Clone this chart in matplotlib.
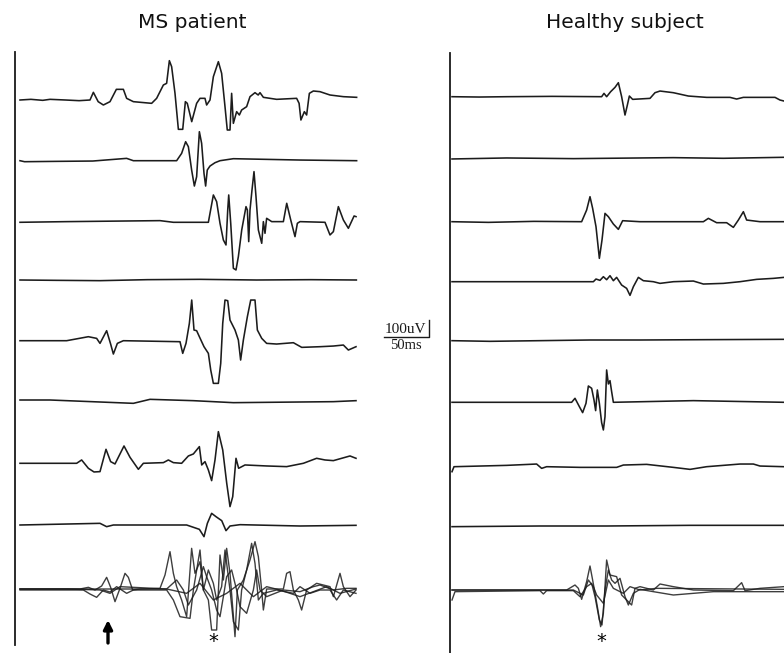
import numpy as np
import matplotlib
matplotlib.use("Agg")
import matplotlib.pyplot as plt

# ---- recorded sweeps: (time in ms, amplitude in uV) ----
# MS patient
ms_row1 = [(0, 0), (12, 4), (25, -2), (33, 4), (50, 0), (65, -4), (77, 0), (80.7, 46), (86, -10), (91.7, -30),
           (99, -10), (106, 64), (113.7, 64), (117.3, 10), (124.7, -10), (144.8, -20), (150.3, 10), (157.7, 90),
           (161.3, 100), (164.3, 236), (166.8, 200), (170.5, 40), (174.2, -176), (179, -176), (181.9, -10),
           (184, -20), (188.9, -130), (194.3, -20), (198, 10), (203.5, 10), (205.3, -30), (209, 0), (212.7, 140),
           (218.2, 230), (221.8, 160), (225.5, -40), (228, -180), (231, -180), (232.8, 40), (234.7, -140),
           (238.3, -70), (241.3, -90), (243.8, -60), (249.3, -40), (253, 20), (258.5, 44), (262, 30), (264, 44),
           (267.7, 16), (282.3, 4), (304.3, 10), (307, -20), (309, -120), (312.8, -70), (315.3, -90), (318.3, 40),
           (322.7, 54), (330, 50), (341, 30), (355.7, 20), (370.3, 16)]
ms_row2 = [(0, 0), (5, -6), (40, -4), (80, -2), (117.3, 14), (124.7, 0), (172.3, 0), (177.8, 44), (182.2, 114),
           (185.2, 84), (188.8, -56), (191.8, -152), (194.3, -96), (197.3, 174), (199.8, 104), (202.4, -76),
           (204.2, -152), (206, -56), (209, -32), (214.5, -12), (220, 0), (234.7, 12), (271.3, 8), (308, 4),
           (370.3, 0)]
ms_row3 = [(0, 0), (51.3, 4), (154, 10), (168.7, 0), (207.2, 0), (212.7, 164), (216.3, 124), (220, -6),
           (223.7, -106), (226.6, -136), (228.5, 74), (229.6, 164), (231.8, -6), (234.7, -276), (237.6, -286),
           (240.2, -206), (243.9, -46), (248.6, 94), (250.1, 74), (251.6, -116), (253, 74), (255.2, 194),
           (257.4, 304), (259.6, 154), (262.2, -46), (265.9, -126), (267.7, 4), (269.5, -66), (271.3, 24),
           (276.9, 4), (289.7, 4), (293.4, 114), (297.8, 14), (302.5, -86), (305.1, -6), (308, 4), (335.5, 0),
           (341, -76), (344.7, -56), (350.2, 94), (355.7, 14), (361.2, -36), (367.5, 38), (369.6, 34)]
ms_row4 = [(0, 0), (40, -2), (88, -4), (140, 2), (198, 4), (260, 0), (320, 2), (370, 0)]
ms_row5 = [(0, 0), (51.3, 0), (75.2, 24), (84.3, 14), (88, -16), (95.3, 60), (99.7, -20), (102.7, -80),
           (107.1, -16), (113.7, 0), (176, -6), (179, -76), (182.6, -16), (186.3, 104), (188.9, 244), (191.4, 64),
           (194.3, 60), (197.3, 24), (202.4, -36), (207.2, -76), (209.8, -176), (212.7, -256), (218.2, -256),
           (220.8, -136), (223, 104), (225.5, 244), (228.5, 240), (231, 124), (236.5, 64), (240.2, 4),
           (242.7, -116), (245.7, 4), (250.1, 144), (253.8, 244), (258.5, 244), (261.1, 64), (265.9, 14),
           (271.3, -16), (282.3, -20), (300.7, -12), (309.9, -40), (330, -36), (344.7, -32), (355.7, -26),
           (361.2, -56), (369.6, -36)]
ms_row6 = [(0, 6), (33, 6), (124.7, -14), (143, 10), (190.7, 2), (234.7, -10), (344.7, -4), (369.6, 2)]
ms_row7 = [(0, 0), (62.3, 0), (67.8, 20), (75.2, -30), (81.4, -52), (88, -50), (94.6, 84), (99.7, 10),
           (104.5, -4), (114.4, 104), (121, 36), (130.2, -36), (135.7, 0), (157.7, 4), (163.2, 20), (168.7, 4),
           (177.8, 0), (185.2, 44), (190.7, 56), (197.3, 100), (199.9, -10), (203.5, 10), (207.2, -40),
           (210.8, -104), (214.5, 20), (218.2, 190), (223, 80), (227.4, -120), (231, -260), (234, -200),
           (237.6, 30), (240.5, -30), (247.5, -10), (271.3, -16), (293.3, -20), (311.7, 0), (326.3, 30),
           (335.5, 20), (344.7, 16), (363, 44), (369.6, 30)]
ms_row8 = [(0, 0), (88, 10), (95.3, -10), (102.7, 0), (183.3, 0), (197.3, -26), (202.4, -70), (206.1, 10),
           (210.8, 70), (215.6, 50), (221.9, 26), (226.6, -34), (231, -6), (242, 2), (308, -6), (369.6, -2)]
ms_row9a = [(0, 0), (66, 0), (75.2, 10), (82.5, -6), (89.8, 18), (95.3, 70), (99.7, 10), (104.5, -76), (110, 4),
            (115.5, 94), (119.2, 70), (123.9, -6), (132, 0), (154, 4), (159.5, 84), (165, 224), (168.7, 94),
            (172.3, 14), (177.8, -66), (183.3, -166), (188.8, 244), (192.5, 94), (198, 164), (201.7, -6),
            (207.2, -66), (210.8, -246), (216.3, -246), (220, 204), (223.7, 54), (227.3, 244), (231, 94),
            (236.5, -286), (239.1, -6), (245.7, 54), (253, 174), (258.5, 284), (262.2, 194), (265.8, -6),
            (267.7, -126), (271.3, 0), (289.7, 0), (293.3, 94), (297, 104), (300.7, -6), (306.2, -66),
            (309.8, -126), (315.3, -6), (326.3, 34), (341, 14), (344.7, -46), (352, 94), (355.7, 14), (363, -46),
            (369.6, -6)]
ms_row9b = [(0, -6), (69.7, -6), (77, -30), (84.3, -50), (91.7, -6), (99, -18), (106.3, 14), (117.3, -26),
            (124.7, -6), (161.3, -6), (168.7, -66), (176, -166), (187, -176), (190.7, -6), (198, 234),
            (201.7, -6), (207.2, 114), (212.7, 34), (216.3, -66), (221.8, 14), (225.5, 234), (231, -6),
            (234.7, -196), (240.2, -246), (243.8, -6), (249.3, 114), (254.8, 274), (258.5, 154), (262.2, -66),
            (267.7, -26), (282.3, -6), (300.7, -26), (308, 14), (319, -26), (330, -6), (341, -6), (348.3, -66),
            (355.7, -6), (369.6, -26)]
ms_row9c = [(0, 0), (132, 0), (161.3, 0), (172.3, 54), (179.7, -6), (185.2, -96), (194.3, -6), (201.7, 134),
            (205.3, 74), (210.8, -6), (216.3, -126), (220, -166), (223.7, -46), (227.3, 74), (232.8, 114),
            (238.3, -6), (242, -106), (249.3, -146), (256.7, -6), (260.3, 114), (264, -6), (271.3, -46),
            (289.7, -6), (308, -16), (322.7, 14), (330, 24), (344.7, -6), (359.3, 4), (369.6, 4)]
ms_row9d = [(0, 0), (51.3, 0), (88, -6), (99, -26), (110, 14), (161.3, 0), (183.3, -26), (198, 34),
            (212.7, -66), (227.3, -26), (242, 34), (256.7, -46), (271.3, 14), (286, -6), (308, -46),
            (322.7, -16), (337.3, 14), (352, -26), (369.6, 0)]

# Healthy subject
hs_row1 = [(0, 0), (30, -2), (60.1, 0), (110, 2), (164.6, 0), (167.2, 20), (170.1, 0), (174.5, 30), (179.3, 56),
           (183, 84), (186.6, 0), (190.3, -110), (192.9, -50), (195.1, 4), (198.7, -16), (217.8, -10),
           (223.3, 24), (228.8, 34), (243.5, 24), (260, 4), (280.1, -4), (305.8, -4), (313.1, -14), (320.5, -4),
           (355.3, -4), (360.8, -20), (365.2, -26)]
hs_row2 = [(0, -4), (60.1, 2), (133.5, -2), (206.8, 2), (243.5, 4), (298.5, 0), (365.2, 6)]
hs_row3 = [(0, 0), (40, -4), (90, 2), (142.6, 0), (148.1, 70), (151.8, 150), (154.7, 80), (158.4, -30),
           (162.1, -220), (165, -110), (168.3, 50), (172, 30), (177.5, -14), (183, -46), (187.7, 6), (206.8, 0),
           (276.5, 0), (282, 20), (291.1, -6), (302.1, -6), (309.5, -34), (315, 10), (320.5, 60), (324.1, 10),
           (338.8, 0), (365.2, 0)]
hs_row4 = [(0, 0), (155.5, 0), (158.4, 16), (162.8, 8), (166.5, 30), (170.1, 12), (173.8, 36), (177.5, 6),
           (181.1, 26), (186.6, -20), (192.1, -40), (195.8, -82), (199.5, -30), (205, 26), (210.5, 6),
           (221.5, 0), (228.8, -10), (243.5, 0), (265.5, 4), (276.5, -14), (298.5, -10), (316.8, 0),
           (335.1, 14), (353.5, 20), (365.2, 26)]
hs_row5 = [(0, -4), (41.8, -8), (96.8, -4), (151.8, 0), (206.8, 0), (280.1, 2), (365.2, 4)]
hs_row6 = [(0, 0), (131.6, 0), (135.3, 24), (140.1, -26), (143.7, -62), (147.4, -6), (150, 98), (153.6, 84),
           (156.2, 14), (158, -50), (159.9, 74), (162.1, -6), (164.6, -122), (166.5, -166), (168.3, -86),
           (170.1, 194), (172, 110), (173.8, 130), (175.6, 64), (177.5, 0), (265.5, 10), (365.2, 0)]
hs_row7 = [(0, -36), (2.2, -6), (60.1, 2), (93.1, 10), (98.6, -16), (104.1, -6), (140.8, -10), (181.1, -10),
           (188.5, 4), (214.1, 8), (243.5, -10), (261.8, -22), (280.1, -6), (316.8, 10), (331.5, 10),
           (338.8, -2), (365.2, -6)]
hs_row8 = [(0, -4), (96.8, 0), (170.1, 0), (261.8, 4), (365.2, 4)]
hs_row9a = [(0, 0), (126.1, 0), (135.3, 30), (139, 10), (142.6, -56), (148.1, 50), (151.8, 144), (154.7, 60),
            (159.9, -100), (163.5, -220), (166.5, -140), (170.1, 180), (173.8, 90), (181.1, 80), (186.6, -30),
            (192.1, -60), (197.6, -90), (201.3, 10), (206.8, 20), (221.5, 0), (228.8, 36), (243.5, 20),
            (265.5, 0), (309.5, -4), (318.6, 44), (322.3, -4), (338.8, 10), (365.2, 20)]
hs_row9b = [(0, -60), (3.3, -10), (96.8, -4), (100.5, -24), (104.1, -4), (133.5, -4), (140.8, -40), (148.1, 20),
            (153.6, 40), (157.3, -40), (162.1, -180), (165, -210), (168.3, 0), (172, 120), (175.6, 60),
            (179.3, 40), (184.8, 70), (190.3, -40), (194, -90), (199.5, -20), (206.8, 4), (221.5, -10),
            (243.5, -30), (265.5, -20), (287.5, -10), (309.5, -10), (365.2, -10)]
hs_row9c = [(0, 0), (133.5, 0), (144.5, -30), (150, 60), (155.5, 20), (159.1, -30), (166.5, -80), (172, 60),
            (177.5, 10), (188.5, -20), (195.8, 20), (206.8, 0), (225.1, 10), (365.2, 4)]

ms_rows = [[ms_row1], [ms_row2], [ms_row3], [ms_row4], [ms_row5], [ms_row6], [ms_row7], [ms_row8],
           [ms_row9a, ms_row9b, ms_row9c, ms_row9d]]
hs_rows = [[hs_row1], [hs_row2], [hs_row3], [hs_row4], [hs_row5], [hs_row6], [hs_row7], [hs_row8],
           [hs_row9a, hs_row9b, hs_row9c]]

# markers under the bottom rows
stim_ms = 96.8
peak_ms = {"ms": 212.3, "hs": 163.9}

# ---- layout (pixel based) ----
W, H = 784, 653
MS_PER_PX = 1.1
UV_PER_PX = 6.0
INK = "#1c1c1c"

# baseline height of each sweep on the page, top to bottom
ms_base_px = [100, 160.7, 222.3, 280, 340.7, 401, 463.3, 525, 589]
hs_base_px = [96.7, 158.3, 221.7, 281.7, 340, 402.3, 465.7, 526, 590]

fig = plt.figure(figsize=(W / 100, H / 100), dpi=100)
fig.patch.set_facecolor("white")


def make_panel(x0_px, x1_px, trace_px):
    # y in uV measured upward from the top edge of the page
    ax = fig.add_axes([x0_px / W, 0, (x1_px - x0_px) / W, 1])
    ax.set_xlim((x0_px - trace_px) * MS_PER_PX, (x1_px - trace_px) * MS_PER_PX)
    ax.set_ylim(-H * UV_PER_PX, 0)
    ax.patch.set_alpha(0)
    ax.set_xticks([])
    ax.set_yticks([])
    for s in ("top", "right", "bottom"):
        ax.spines[s].set_visible(False)
    return ax


def to_y(py):
    return -py * UV_PER_PX


def draw_rows(ax, rows, bases):
    for traces, base in zip(rows, bases):
        multi = len(traces) > 1
        for tr in traces:
            t = np.array([p[0] for p in tr])
            v = np.array([p[1] for p in tr])
            ax.plot(t, v + to_y(base), color=INK, lw=1.0 if multi else 1.15,
                    solid_joinstyle="round", alpha=0.85 if multi else 1)


# MS patient panel
ax1 = make_panel(0, 440, 20)
draw_rows(ax1, ms_rows, ms_base_px)
ax1.spines["left"].set_position(("data", -5.5))
ax1.spines["left"].set_bounds(to_y(645), to_y(52))
ax1.spines["left"].set_linewidth(1.3)
ax1.spines["left"].set_color("#1a1a1a")

# Healthy subject panel
ax2 = make_panel(440, 784, 452)
draw_rows(ax2, hs_rows, hs_base_px)
ax2.spines["left"].set_position(("data", -2.2))
ax2.spines["left"].set_bounds(to_y(653), to_y(53))
ax2.spines["left"].set_linewidth(1.3)
ax2.spines["left"].set_color("#1a1a1a")

# stimulus arrow and response markers
ax1.annotate("", xy=(stim_ms, to_y(620)), xytext=(stim_ms, to_y(643)),
             arrowprops=dict(arrowstyle="-|>", lw=2.4, color="black", mutation_scale=13,
                             shrinkA=0, shrinkB=0))
ax1.text(peak_ms["ms"], to_y(641), "*", ha="center", va="center", fontsize=14, color="black")
ax2.text(peak_ms["hs"], to_y(641), "*", ha="center", va="center", fontsize=14, color="black")

# calibration bar: 100 uV / 50 ms
bar_t0 = (384 - 20) * MS_PER_PX
bar_y = to_y(337)
ax1.plot([bar_t0, bar_t0 + 50, bar_t0 + 50], [bar_y, bar_y, bar_y + 100], color="#1a1a1a", lw=1.0)
ax1.text(bar_t0 + 24, bar_y + 8, "100uV", ha="center", va="bottom", fontsize=11,
         family="Liberation Serif", color="#1a1a1a")
ax1.text(bar_t0 + 24, bar_y - 12, "50ms", ha="center", va="top", fontsize=10.5,
         family="Liberation Serif", color="#1a1a1a")

# panel titles
fig.text(192 / W, 1 - 23 / H, "MS patient", ha="center", va="center", fontsize=14.5, color="#111111")
fig.text(625 / W, 1 - 23 / H, "Healthy subject", ha="center", va="center", fontsize=14.5, color="#111111")

fig.savefig("out.png", dpi=100, facecolor="white")
